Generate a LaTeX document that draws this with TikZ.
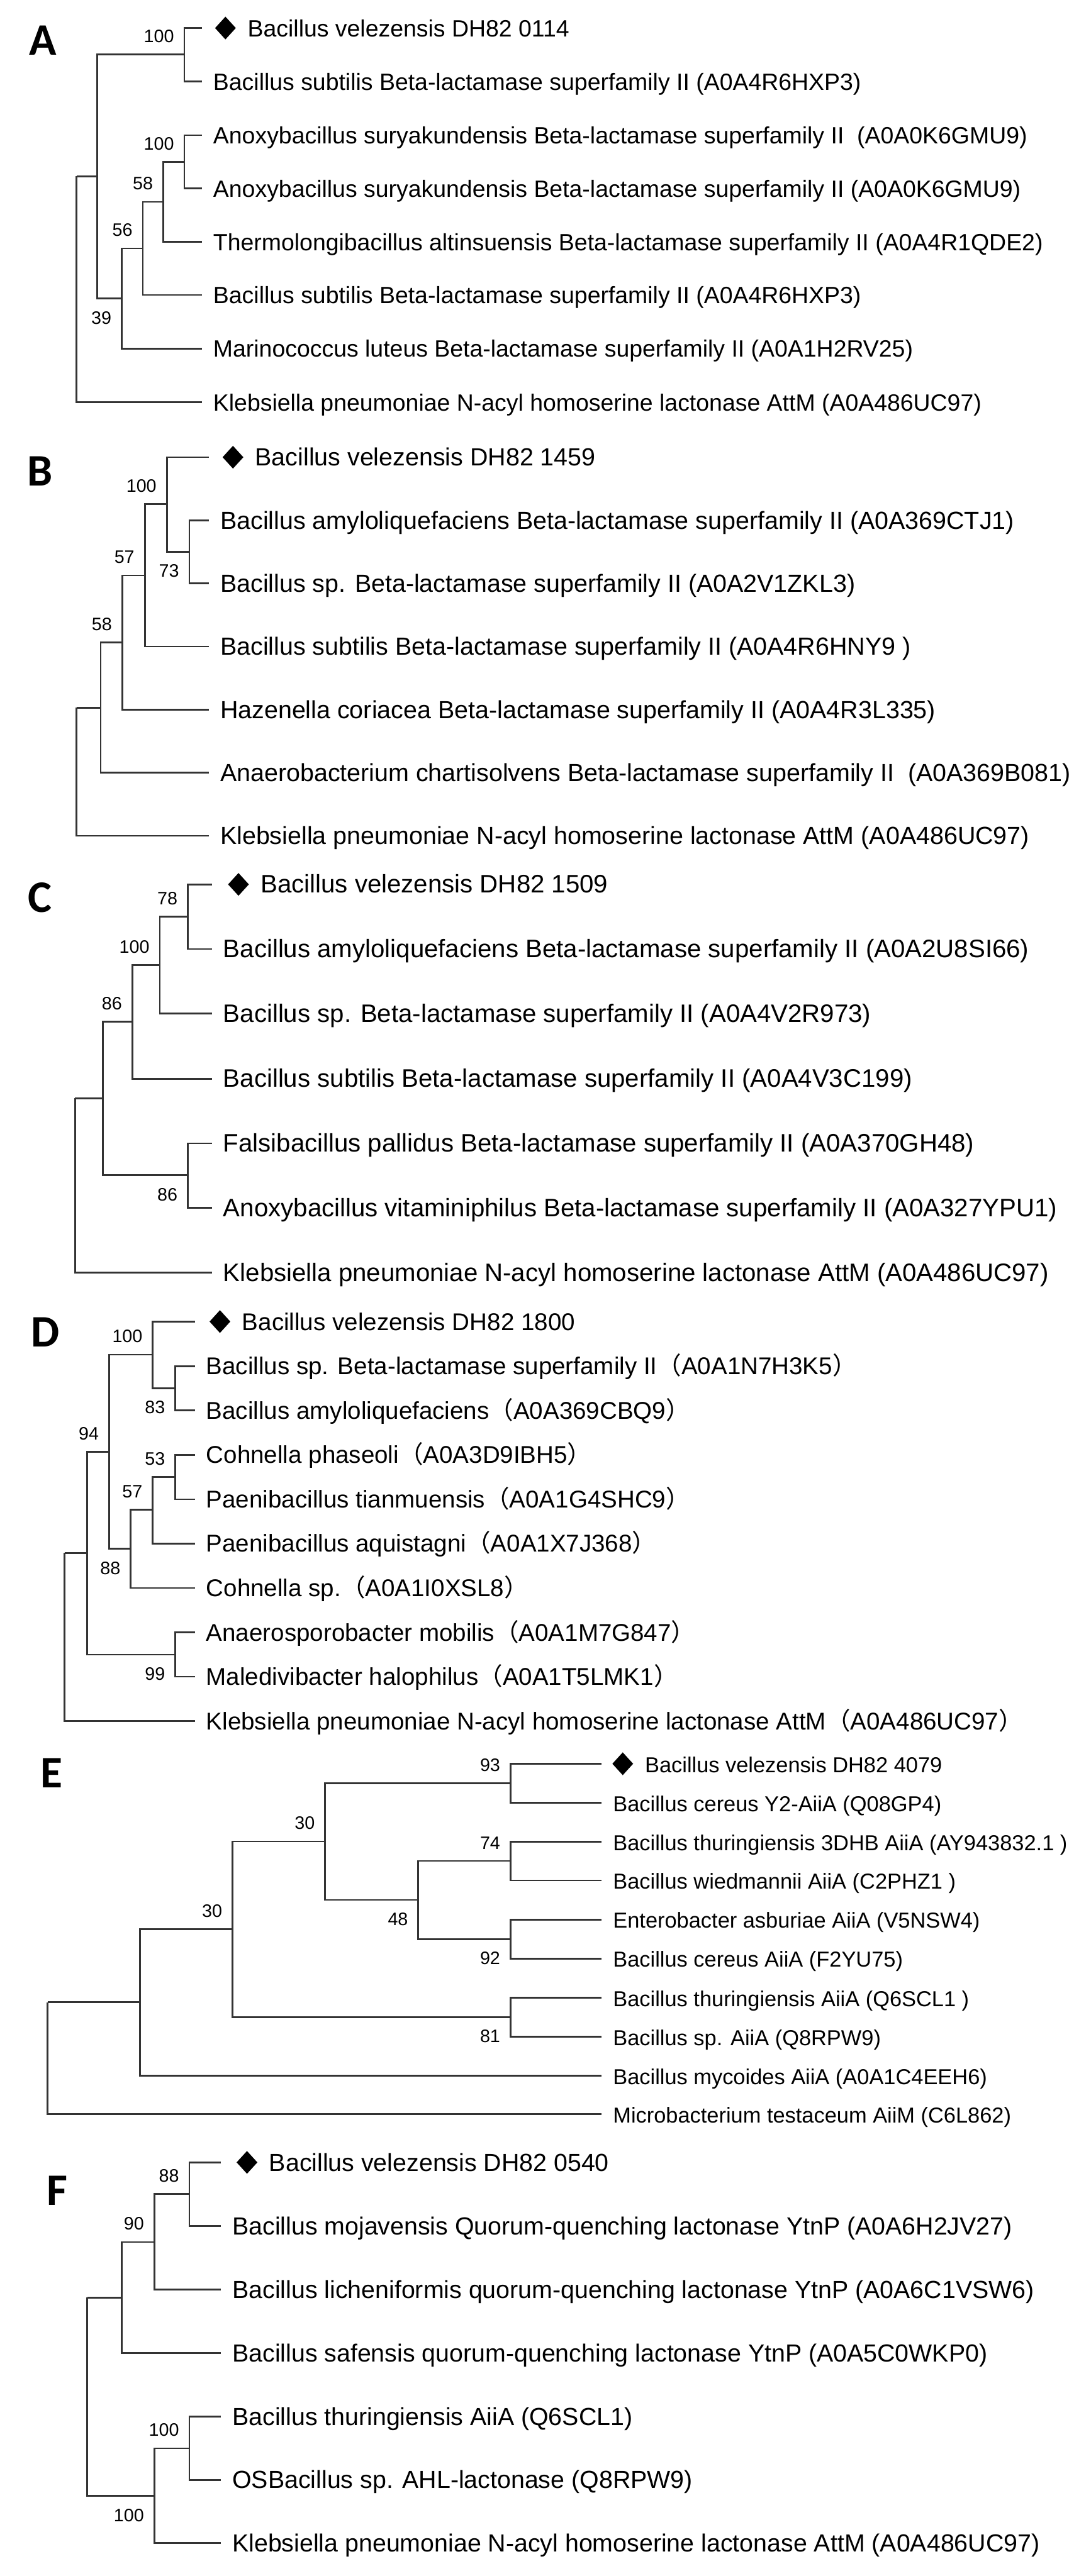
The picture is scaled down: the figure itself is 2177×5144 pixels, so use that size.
\documentclass[tikz,border=0pt]{standalone}
\usepackage{fontspec}
\setmainfont{Liberation Sans}
\newfontfamily\panelfont{Carlito}
\newfontfamily\cjk{Noto Sans CJK SC}
\usetikzlibrary{shapes.geometric}
\newcommand{\fwl}{{\cjk （}}
\newcommand{\fwr}{{\cjk ）}}

\begin{document}
\begin{tikzpicture}[
    x=0.1mm, y=-0.1mm,
    branch/.style={draw=black!80, line width=0.35mm},
    leaf/.style={anchor=base west, inner sep=0pt, xshift=2.2mm, yshift=-1.72mm},
    diam/.style={diamond, fill=black, inner sep=0pt, minimum width=4.2mm, minimum height=4.6mm},
    boot/.style={font=\fontsize{3.6mm}{3.6mm}\selectfont, inner sep=0pt, anchor=south east, xshift=-2mm, yshift=2.3mm},
    bootb/.style={font=\fontsize{3.6mm}{3.6mm}\selectfont, inner sep=0pt, anchor=north east, xshift=-2mm, yshift=-2.5mm},
    panel/.style={font=\panelfont\bfseries\fontsize{9mm}{9mm}\selectfont, inner sep=0pt},
]
\useasboundingbox[fill=white] (0,0) rectangle (2177,5144);

% Panel A
\node[panel] (pA) at (86,81) {A};
\begin{scope}[font=\fontsize{4.7mm}{5.6mm}\selectfont]
\foreach \n/\y in {1/56, 2/163, 3/270, 4/376, 5/483, 6/589, 7/696, 8/803}
    \coordinate (A\n) at (403,\y);
\coordinate (Aa) at (368,109);
\coordinate (Ab) at (368,323);
\coordinate (Ac) at (326,403);
\coordinate (Ad) at (285,496);
\coordinate (Ae) at (243,596);
\coordinate (Af) at (194,352);
\coordinate (Ar) at (153,352);

\node[diam] (dA) at (450,56) {};
\node[leaf] (lA1) at (dA.east) {Bacillus velezensis DH82 0114};
\node[leaf] (lA2) at (A2) {Bacillus subtilis Beta-lactamase superfamily II (A0A4R6HXP3)};
\node[leaf] (lA3) at (A3) {Anoxybacillus suryakundensis Beta-lactamase superfamily II~ (A0A0K6GMU9)};
\node[leaf] (lA4) at (A4) {Anoxybacillus suryakundensis Beta-lactamase superfamily II (A0A0K6GMU9)};
\node[leaf] (lA5) at (A5) {Thermolongibacillus altinsuensis Beta-lactamase superfamily II (A0A4R1QDE2)};
\node[leaf] (lA6) at (A6) {Bacillus subtilis Beta-lactamase superfamily II (A0A4R6HXP3)};
\node[leaf] (lA7) at (A7) {Marinococcus luteus Beta-lactamase superfamily II (A0A1H2RV25)};
\node[leaf] (lA8) at (A8) {Klebsiella pneumoniae N-acyl homoserine lactonase AttM (A0A486UC97)};

\draw[branch] (Aa) |- (A1) (Aa) |- (A2) (Ab) |- (A3) (Ab) |- (A4)
    (Ac) |- (Ab) (Ac) |- (A5) (Ad) |- (Ac) (Ad) |- (A6)
    (Ae) |- (Ad) (Ae) |- (A7) (Af) |- (Aa) (Af) |- (Ae)
    (Ar) |- (Af) (Ar) |- (A8);

\node[boot] (bAa) at (Aa) {100};
\node[boot] (bAb) at (Ab) {100};
\node[boot] (bAc) at (Ac) {58};
\node[boot] (bAd) at (Ad) {56};
\node[bootb] (bAe) at (Ae) {39};
\end{scope}

% Panel B
\node[panel] (pB) at (80,941) {B};
\begin{scope}[font=\fontsize{4.95mm}{5.8mm}\selectfont]
\foreach \n/\y in {1/913, 2/1039, 3/1165, 4/1291, 5/1417, 6/1543, 7/1669}
    \coordinate (B\n) at (417,\y);
\coordinate (Ba) at (378,1102);
\coordinate (Bb) at (333,1007);
\coordinate (Bc) at (289,1149);
\coordinate (Bd) at (244,1283);
\coordinate (Be) at (201,1413);
\coordinate (Br) at (153,1413);

\node[diam] (dB) at (465,913) {};
\node[leaf] (lB1) at (dB.east) {Bacillus velezensis DH82 1459};
\node[leaf] (lB2) at (B2) {Bacillus amyloliquefaciens Beta-lactamase superfamily II (A0A369CTJ1)};
\node[leaf] (lB3) at (B3) {Bacillus sp. Beta-lactamase superfamily II (A0A2V1ZKL3)};
\node[leaf] (lB4) at (B4) {Bacillus subtilis Beta-lactamase superfamily II (A0A4R6HNY9 )};
\node[leaf] (lB5) at (B5) {Hazenella coriacea Beta-lactamase superfamily II (A0A4R3L335)};
\node[leaf] (lB6) at (B6) {Anaerobacterium chartisolvens Beta-lactamase superfamily II~ (A0A369B081)};
\node[leaf] (lB7) at (B7) {Klebsiella pneumoniae N-acyl homoserine lactonase AttM (A0A486UC97)};

\draw[branch] (Ba) |- (B2) (Ba) |- (B3) (Bb) |- (B1) (Bb) |- (Ba)
    (Bc) |- (Bb) (Bc) |- (B4) (Bd) |- (Bc) (Bd) |- (B5)
    (Be) |- (Bd) (Be) |- (B6) (Br) |- (Be) (Br) |- (B7);

\node[boot] (bBb) at (Bb) {100};
\node[boot] (bBc) at (Bc) {57};
\node[bootb] (bBa) at (Ba) {73};
\node[boot] (bBd) at (Bd) {58};
\end{scope}

% Panel C
\node[panel] (pC) at (80,1793) {C};
\begin{scope}[font=\fontsize{5.05mm}{5.9mm}\selectfont]
\foreach \n/\y in {1/1766, 2/1895, 3/2024, 4/2154, 5/2283, 6/2412, 7/2541}
    \coordinate (C\n) at (423,\y);
\coordinate (Ca) at (375,1830);
\coordinate (Cb) at (319,1927);
\coordinate (Cc) at (264,2040);
\coordinate (Cd) at (375,2347);
\coordinate (Ce) at (205,2193);
\coordinate (Cr) at (150,2193);

\node[diam] (dC) at (476,1766) {};
\node[leaf] (lC1) at (dC.east) {Bacillus velezensis DH82 1509};
\node[leaf] (lC2) at (C2) {Bacillus amyloliquefaciens Beta-lactamase superfamily II (A0A2U8SI66)};
\node[leaf] (lC3) at (C3) {Bacillus sp. Beta-lactamase superfamily II (A0A4V2R973)};
\node[leaf] (lC4) at (C4) {Bacillus subtilis Beta-lactamase superfamily II (A0A4V3C199)};
\node[leaf] (lC5) at (C5) {Falsibacillus pallidus Beta-lactamase superfamily II (A0A370GH48)};
\node[leaf] (lC6) at (C6) {Anoxybacillus vitaminiphilus Beta-lactamase superfamily II (A0A327YPU1)};
\node[leaf] (lC7) at (C7) {Klebsiella pneumoniae N-acyl homoserine lactonase AttM (A0A486UC97)};

\draw[branch] (Ca) |- (C1) (Ca) |- (C2) (Cb) |- (Ca) (Cb) |- (C3)
    (Cc) |- (Cb) (Cc) |- (C4) (Cd) |- (C5) (Cd) |- (C6)
    (Ce) |- (Cc) (Ce) |- (Cd) (Cr) |- (Ce) (Cr) |- (C7);

\node[boot] (bCa) at (Ca) {78};
\node[boot] (bCb) at (Cb) {100};
\node[boot] (bCc) at (Cc) {86};
\node[bootb] (bCd) at (Cd) {86};
\end{scope}

% Panel D
\node[panel] (pD) at (90,2660) {D};
\begin{scope}[font=\fontsize{4.84mm}{5.7mm}\selectfont]
\foreach \n/\y in {1/2639, 2/2728, 3/2816, 4/2905, 5/2994, 6/3082, 7/3171, 8/3260, 9/3348, 10/3437}
    \coordinate (D\n) at (389,\y);
\coordinate (Da) at (350,2772);
\coordinate (Db) at (305,2705);
\coordinate (Dc) at (350,2949);
\coordinate (Dd) at (305,3015);
\coordinate (De) at (261,3093);
\coordinate (Df) at (218,2899);
\coordinate (Dg) at (350,3304);
\coordinate (Dh) at (174,3101);
\coordinate (Dr) at (129,3101);

\node[diam] (dD) at (439,2639) {};
\node[leaf] (lD1) at (dD.east) {Bacillus velezensis DH82 1800};
\node[leaf] (lD2) at (D2) {Bacillus sp. Beta-lactamase superfamily II\fwl A0A1N7H3K5\fwr};
\node[leaf] (lD3) at (D3) {Bacillus amyloliquefaciens\fwl A0A369CBQ9\fwr};
\node[leaf] (lD4) at (D4) {Cohnella phaseoli\fwl A0A3D9IBH5\fwr};
\node[leaf] (lD5) at (D5) {Paenibacillus tianmuensis\fwl A0A1G4SHC9\fwr};
\node[leaf] (lD6) at (D6) {Paenibacillus aquistagni\fwl A0A1X7J368\fwr};
\node[leaf] (lD7) at (D7) {Cohnella sp.\fwl A0A1I0XSL8\fwr};
\node[leaf] (lD8) at (D8) {Anaerosporobacter mobilis\fwl A0A1M7G847\fwr};
\node[leaf] (lD9) at (D9) {Maledivibacter halophilus\fwl A0A1T5LMK1\fwr};
\node[leaf] (lD10) at (D10) {Klebsiella pneumoniae N-acyl homoserine lactonase AttM\fwl A0A486UC97\fwr};

\draw[branch] (Da) |- (D2) (Da) |- (D3) (Db) |- (D1) (Db) |- (Da)
    (Dc) |- (D4) (Dc) |- (D5) (Dd) |- (Dc) (Dd) |- (D6)
    (De) |- (Dd) (De) |- (D7) (Df) |- (Db) (Df) |- (De)
    (Dg) |- (D8) (Dg) |- (D9) (Dh) |- (Df) (Dh) |- (Dg)
    (Dr) |- (Dh) (Dr) |- (D10);

\node[boot] (bDb) at (Db) {100};
\node[bootb] (bDa) at (Da) {83};
\node[boot] (bDf) at (Df) {94};
\node[boot] (bDc) at (Dc) {53};
\node[boot] (bDd) at (Dd) {57};
\node[bootb] (bDe) at (De) {88};
\node[bootb] (bDg) at (Dg) {99};
\end{scope}

% Panel E
\node[panel] (pE) at (103,3540) {E};
\begin{scope}[font=\fontsize{4.32mm}{5.1mm}\selectfont]
\foreach \n/\y in {1/3522, 2/3600, 3/3678, 4/3755, 5/3833, 6/3911, 7/3989, 8/4067, 9/4145, 10/4222}
    \coordinate (E\n) at (1201,\y);
\coordinate (Ea) at (1019,3561);
\coordinate (Eb) at (1019,3716);
\coordinate (Ec) at (1019,3872);
\coordinate (Ed) at (835,3794);
\coordinate (Ee) at (649,3677);
\coordinate (Ef) at (1019,4028);
\coordinate (Eg) at (464,3852);
\coordinate (Eh) at (279,3998);
\coordinate (Er) at (95,3998);

\node[diam] (dE) at (1243,3522) {};
\node[leaf] (lE1) at (dE.east) {Bacillus velezensis DH82 4079};
\node[leaf] (lE2) at (E2) {Bacillus cereus Y2-AiiA (Q08GP4)};
\node[leaf] (lE3) at (E3) {Bacillus thuringiensis 3DHB AiiA (AY943832.1 )};
\node[leaf] (lE4) at (E4) {Bacillus wiedmannii AiiA (C2PHZ1 )};
\node[leaf] (lE5) at (E5) {Enterobacter asburiae AiiA (V5NSW4)};
\node[leaf] (lE6) at (E6) {Bacillus cereus AiiA (F2YU75)};
\node[leaf] (lE7) at (E7) {Bacillus thuringiensis AiiA (Q6SCL1 )};
\node[leaf] (lE8) at (E8) {Bacillus sp. AiiA (Q8RPW9)};
\node[leaf] (lE9) at (E9) {Bacillus mycoides AiiA (A0A1C4EEH6)};
\node[leaf] (lE10) at (E10) {Microbacterium testaceum AiiM (C6L862)};

\draw[branch] (Ea) |- (E1) (Ea) |- (E2) (Eb) |- (E3) (Eb) |- (E4)
    (Ec) |- (E5) (Ec) |- (E6) (Ed) |- (Eb) (Ed) |- (Ec)
    (Ee) |- (Ea) (Ee) |- (Ed) (Ef) |- (E7) (Ef) |- (E8)
    (Eg) |- (Ee) (Eg) |- (Ef) (Eh) |- (Eg) (Eh) |- (E9)
    (Er) |- (Eh) (Er) |- (E10);

\node[boot] (bEa) at (Ea) {93};
\node[boot] (bEe) at (Ee) {30};
\node[boot] (bEb) at (Eb) {74};
\node[boot] (bEg) at (Eg) {30};
\node[bootb] (bEd) at (Ed) {48};
\node[bootb] (bEc) at (Ec) {92};
\node[bootb] (bEf) at (Ef) {81};
\end{scope}

% Panel F
\node[panel] (pF) at (114,4374) {F};
\begin{scope}[font=\fontsize{4.94mm}{5.8mm}\selectfont]
\foreach \n/\y in {1/4318, 2/4445, 3/4572, 4/4699, 5/4826, 6/4952, 7/5078}
    \coordinate (F\n) at (441,\y);
\coordinate (Fa) at (378,4381);
\coordinate (Fb) at (308,4477);
\coordinate (Fc) at (243,4588);
\coordinate (Fd) at (378,4889);
\coordinate (Fe) at (308,4984);
\coordinate (Fr) at (174,4588);

\node[diam] (dF) at (493,4318) {};
\node[leaf] (lF1) at (dF.east) {Bacillus velezensis DH82 0540};
\node[leaf] (lF2) at (F2) {Bacillus mojavensis Quorum-quenching lactonase YtnP (A0A6H2JV27)};
\node[leaf] (lF3) at (F3) {Bacillus licheniformis quorum-quenching lactonase YtnP (A0A6C1VSW6)};
\node[leaf] (lF4) at (F4) {Bacillus safensis quorum-quenching lactonase YtnP (A0A5C0WKP0)};
\node[leaf] (lF5) at (F5) {Bacillus thuringiensis AiiA (Q6SCL1)};
\node[leaf] (lF6) at (F6) {OSBacillus sp. AHL-lactonase (Q8RPW9)};
\node[leaf] (lF7) at (F7) {Klebsiella pneumoniae N-acyl homoserine lactonase AttM (A0A486UC97)};

\draw[branch] (Fa) |- (F1) (Fa) |- (F2) (Fb) |- (Fa) (Fb) |- (F3)
    (Fc) |- (Fb) (Fc) |- (F4) (Fd) |- (F5) (Fd) |- (F6)
    (Fe) |- (Fd) (Fe) |- (F7) (Fr) |- (Fc) (Fr) |- (Fe);

\node[boot] (bFa) at (Fa) {88};
\node[boot] (bFb) at (Fb) {90};
\node[boot] (bFd) at (Fd) {100};
\node[bootb] (bFe) at (Fe) {100};
\end{scope}

\end{tikzpicture}
\end{document}
